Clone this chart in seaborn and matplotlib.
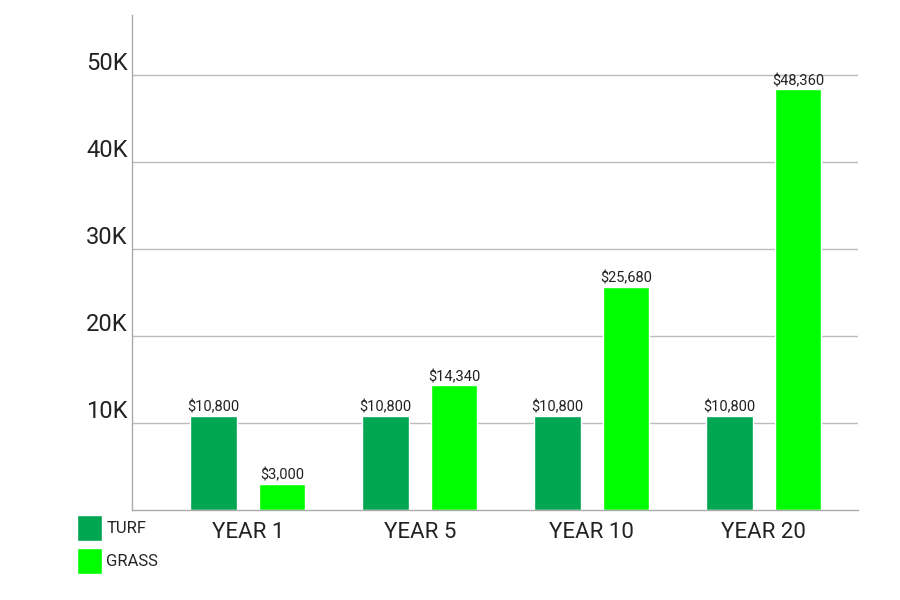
import pandas as pd
import seaborn as sns
import matplotlib.pyplot as plt
from matplotlib.ticker import FuncFormatter

# Cost comparison values
years = ["YEAR 1", "YEAR 5", "YEAR 10", "YEAR 20"]
turf_cost = [10800, 10800, 10800, 10800]
grass_cost = [3000, 14340, 25680, 48360]
series_names = ["TURF", "GRASS"]
y_ticks = [10000, 20000, 30000, 40000, 50000]

df = pd.DataFrame({
    "year": years * 2,
    "cost": turf_cost + grass_cost,
    "kind": [series_names[0]] * len(years) + [series_names[1]] * len(years),
})

sns.set_style("white")
plt.rcParams["font.family"] = ["Roboto", "DejaVu Sans"]

fig = plt.figure(figsize=(9, 6), dpi=100)
ax = fig.add_axes([132 / 900, 90 / 600, 726 / 900, 495 / 600])

sns.barplot(data=df, x="year", y="cost", hue="kind",
            palette=["#00A651", "#00FF00"], width=0.8, gap=0.33,
            saturation=1, ax=ax)

for cont in ax.containers:
    ax.bar_label(cont, labels=[f"${v:,.0f}" for v in cont.datavalues],
                 fontsize=10.5, padding=1, color="#222222")

ax.set_xlim(-0.674, 3.547)
ax.set_ylim(0, 56900)
ax.set_yticks(y_ticks)
ax.yaxis.set_major_formatter(FuncFormatter(lambda v, p: f"{int(v / 1000)}K"))
ax.grid(axis="y", color="#bbbbbb", linewidth=1)
ax.set_axisbelow(True)

for s in ["top", "right"]:
    ax.spines[s].set_visible(False)
for s in ["left", "bottom"]:
    ax.spines[s].set_color("#aaaaaa")
    ax.spines[s].set_linewidth(1)

ax.tick_params(axis="y", length=0, pad=3, labelsize=17, labelcolor="#222222")
ax.tick_params(axis="x", length=0, pad=9, labelsize=16, labelcolor="#222222")
for lbl in ax.get_yticklabels():
    lbl.set_verticalalignment("bottom")
ax.set_xlabel("")
ax.set_ylabel("")

sns.move_legend(ax, "upper left", bbox_to_anchor=(77 / 900, 1 - 515 / 600),
                bbox_transform=fig.transFigure, frameon=False, title=None,
                fontsize=12, handlelength=1.5, handleheight=2.0,
                handletextpad=0.25, labelspacing=0.45,
                borderpad=0, borderaxespad=0)

plt.savefig("out.png", dpi=100)
